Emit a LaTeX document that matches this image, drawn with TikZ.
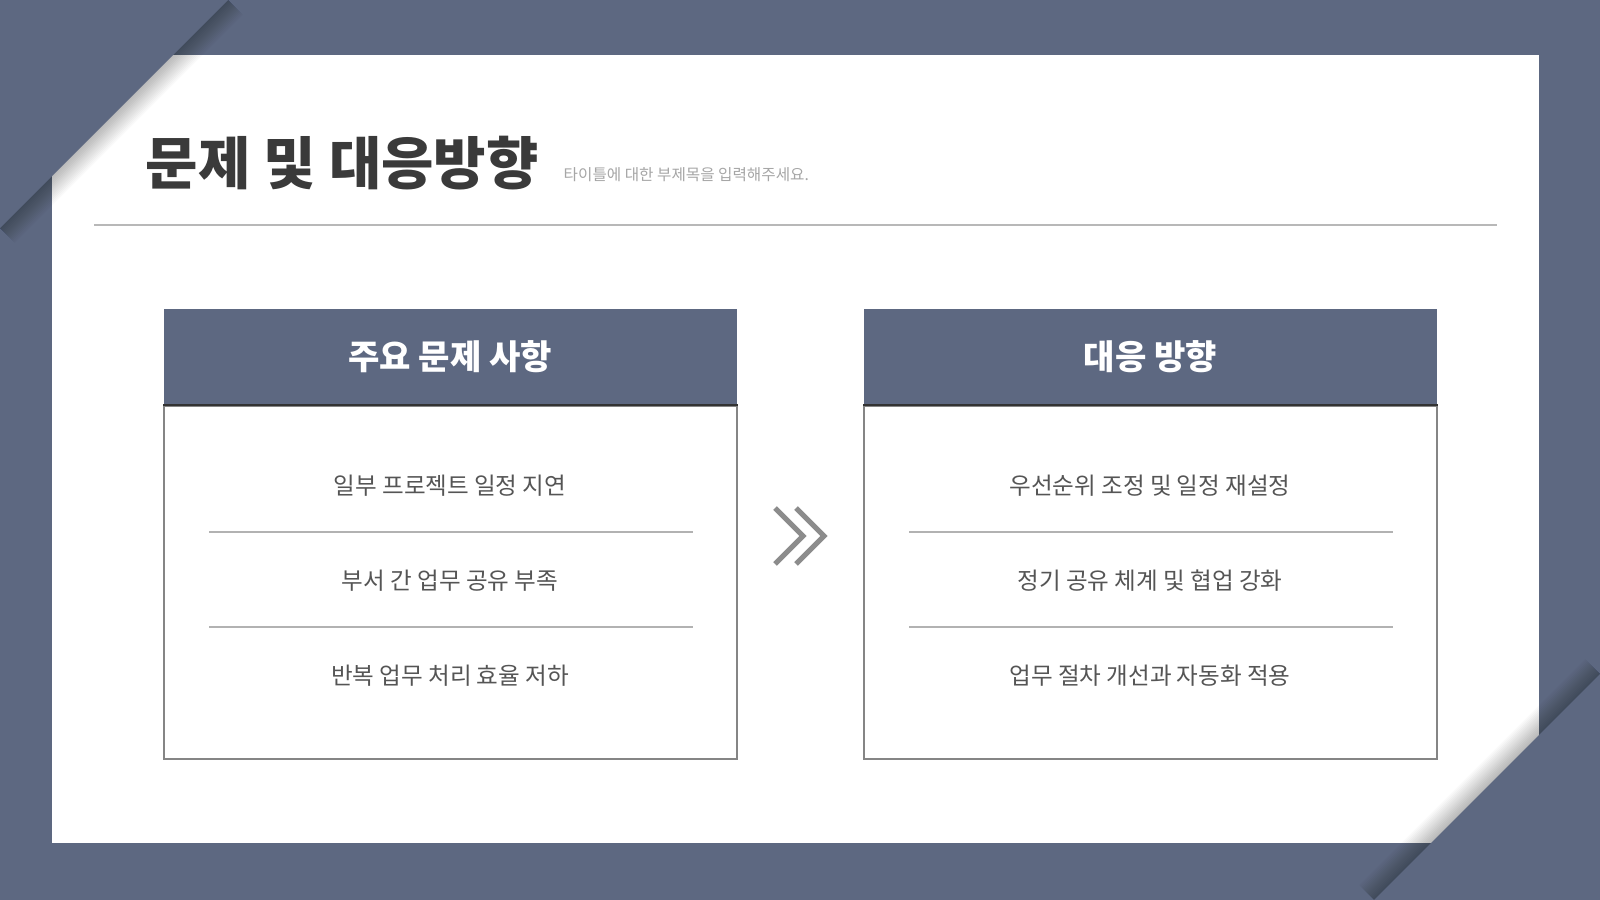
\documentclass[tikz,border=0pt]{standalone}
\usepackage{fontspec}
\setmainfont{Noto Sans CJK KR}
\usetikzlibrary{positioning}

\definecolor{slate}{HTML}{5D6881}
\definecolor{titlegray}{HTML}{3A3A3A}
\definecolor{itemgray}{HTML}{555555}

\tikzset{
  headbox/.style={fill=slate, text=white, inner sep=0pt, minimum width=5.73cm, minimum height=0.95cm,
    font=\fontsize{9.7}{9.7}\selectfont\bfseries},
  bodybox/.style={draw=black!48, line width=0.45pt, fill=white, inner sep=0pt, minimum width=5.73cm, minimum height=3.53cm},
  itemtext/.style={text=itemgray, inner sep=0pt, font=\fontsize{6.7}{6.7}\selectfont},
  divider/.style={draw=black!30, line width=0.35pt},
  chevron/.style={draw=black!45, line width=1.45pt, line join=miter}
}

\begin{document}
\begin{tikzpicture}[x=0.01cm,y=-0.01cm]
  \useasboundingbox (0,0) rectangle (1600,900);
  \fill[slate] (0,0) rectangle (1600,900);
  \fill[white] (52,55) rectangle (1539,843);

  % corner shadows
  \foreach \w in {3,6,...,42} {
    \draw[black, opacity=0.02, line width=\w*0.2845pt] (228,0) -- (0,228);
    \draw[black, opacity=0.02, line width=\w*0.2845pt] (1600,674) -- (1374,900);
  }
  \fill[slate] (0,0) -- (228,0) -- (0,228) -- cycle;
  \fill[slate] (1600,900) -- (1600,674) -- (1374,900) -- cycle;

  % title
  \node[anchor=base west, inner sep=0pt, text=titlegray, font=\fontsize{16.2}{16.2}\selectfont\bfseries]
    (title) at (145,184) {문제 및 대응방향};
  \node[anchor=base west, inner sep=0pt, text=black!35, font=\fontsize{4.45}{4.45}\selectfont]
    (subtitle) at (563,180) {타이틀에 대한 부제목을 입력해주세요.};
  \draw[draw=black!28, line width=0.45pt] (94,225) -- (1497,225);

  % left box
  \node[bodybox, anchor=north west] (probbody) at (163,405) {};
  \node[headbox, anchor=south west] (probhead) at (163,405) {주요 문제 사항};
  \draw[draw=black!80, line width=0.55pt] (probhead.south west) -- (probhead.south east);
  \node[itemtext] (p1) at (450,486) {일부 프로젝트 일정 지연};
  \node[itemtext] (p2) at (450,581) {부서 간 업무 공유 부족};
  \node[itemtext] (p3) at (450,676) {반복 업무 처리 효율 저하};
  \draw[divider] (209,532) -- (693,532);
  \draw[divider] (209,627) -- (693,627);

  % right box
  \node[bodybox, anchor=north west] (planbody) at (863,405) {};
  \node[headbox, anchor=south west] (planhead) at (863,405) {대응 방향};
  \draw[draw=black!80, line width=0.55pt] (planhead.south west) -- (planhead.south east);
  \node[itemtext] (q1) at (1150,486) {우선순위 조정 및 일정 재설정};
  \node[itemtext] (q2) at (1150,581) {정기 공유 체계 및 협업 강화};
  \node[itemtext] (q3) at (1150,676) {업무 절차 개선과 자동화 적용};
  \draw[divider] (909,532) -- (1393,532);
  \draw[divider] (909,627) -- (1393,627);

  % arrow
  \draw[chevron] (775,508) -- (803,536) -- (775,564);
  \draw[chevron] (796,508) -- (824,536) -- (796,564);
\end{tikzpicture}
\end{document}
